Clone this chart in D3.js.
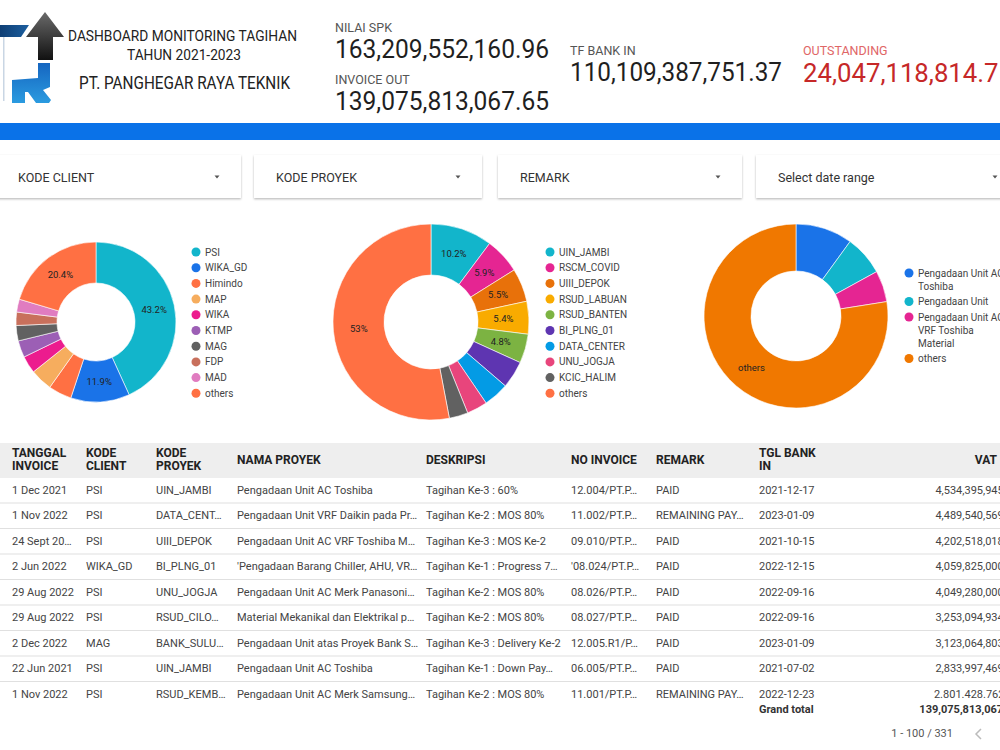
<!DOCTYPE html>
<html><head><meta charset="utf-8">
<script src="https://cdn.jsdelivr.net/npm/d3@7"></script>
<style>
body{margin:0;background:#fff;overflow:hidden}
svg{display:block;font-family:Roboto,"Noto Sans",sans-serif}
</style>
</head><body><svg id="c" width="1000" height="750"></svg>
<script>
// ---------- DATA ----------
const titleLines = ["DASHBOARD MONITORING TAGIHAN", "TAHUN 2021-2023"];
const companyName = "PT. PANGHEGAR RAYA TEKNIK";
const kpiLabels = ["NILAI SPK", "INVOICE OUT", "TF BANK IN", "OUTSTANDING"];
const kpiValues = ["163,209,552,160.96", "139,075,813,067.65", "110,109,387,751.37", "24,047,118,814.75"];
const filterLabels = ["KODE CLIENT", "KODE PROYEK", "REMARK", "Select date range"];

const clientCategories = ["PSI", "WIKA_GD", "Himindo", "MAP", "WIKA", "KTMP", "MAG", "FDP", "MAD", "others"];
const clientShares = [43.2, 11.9, 4.7, 4.5, 3.5, 3.4, 3.1, 2.7, 2.6, 20.4];

const projectCategories = ["UIN_JAMBI", "RSCM_COVID", "UIII_DEPOK", "RSUD_LABUAN", "RSUD_BANTEN", "BI_PLNG_01", "DATA_CENTER", "UNU_JOGJA", "KCIC_HALIM", "others"];
const projectShares = [10.2, 5.9, 5.5, 5.4, 4.8, 4.5, 4.2, 3.4, 3.1, 53];

const nameCategories = ["Pengadaan Unit AC Toshiba", "Pengadaan Unit", "Pengadaan Unit AC VRF Toshiba Material", "others"];
const nameShares = [10, 7, 5.5, 77.5];

const tableHeaders = [["TANGGAL", "INVOICE"], ["KODE", "CLIENT"], ["KODE", "PROYEK"], ["NAMA PROYEK"], ["DESKRIPSI"], ["NO INVOICE"], ["REMARK"], ["TGL BANK", "IN"], ["VAT"]];
const colTanggal = ["1 Dec 2021", "1 Nov 2022", "24 Sept 20…", "2 Jun 2022", "29 Aug 2022", "29 Aug 2022", "2 Dec 2022", "22 Jun 2021", "1 Nov 2022"];
const colClient = ["PSI", "PSI", "PSI", "WIKA_GD", "PSI", "PSI", "MAG", "PSI", "PSI"];
const colProyek = ["UIN_JAMBI", "DATA_CENT…", "UIII_DEPOK", "BI_PLNG_01", "UNU_JOGJA", "RSUD_CILO…", "BANK_SULU…", "UIN_JAMBI", "RSUD_KEMB…"];
const colNama = ["Pengadaan Unit AC Toshiba", "Pengadaan Unit VRF Daikin pada Pr…", "Pengadaan Unit AC VRF Toshiba M…", "'Pengadaan Barang Chiller, AHU, VR…", "Pengadaan Unit AC Merk Panasoni…", "Material Mekanikal dan Elektrikal p…", "Pengadaan Unit atas Proyek Bank S…", "Pengadaan Unit AC Toshiba", "Pengadaan Unit AC Merk Samsung…"];
const colDeskripsi = ["Tagihan Ke-3 : 60%", "Tagihan Ke-2 : MOS 80%", "Tagihan Ke-3 : MOS Ke-2", "Tagihan Ke-1 : Progress 7…", "Tagihan Ke-2 : MOS 80%", "Tagihan Ke-2 : MOS 80%", "Tagihan Ke-3 : Delivery Ke-2", "Tagihan Ke-1 : Down Pay…", "Tagihan Ke-2 : MOS 80%"];
const colNoInvoice = ["12.004/PT.P…", "11.002/PT.P…", "09.010/PT.P…", "'08.024/PT.P…", "08.026/PT.P…", "08.027/PT.P…", "12.005.R1/P…", "06.005/PT.P…", "11.001/PT.P…"];
const colRemark = ["PAID", "REMAINING PAY…", "PAID", "PAID", "PAID", "PAID", "PAID", "PAID", "REMAINING PAY…"];
const colBankIn = ["2021-12-17", "2023-01-09", "2021-10-15", "2022-12-15", "2022-09-16", "2022-09-16", "2023-01-09", "2021-07-02", "2022-12-23"];
const colVat = ["4,534,395,945.45", "4,489,540,569.00", "4,202,518,018.18", "4,059,825,000.00", "4,049,280,000.00", "3,253,094,934.00", "3,123,064,803.00", "2,833,997,469.09", "2.801.428.762,00"];
const grandTotalLabel = "Grand total";
const grandTotalValue = "139,075,813,067.65";
const pageInfo = "1 - 100 / 331";

// ---------- STYLES ----------
const clientColors = ["#12b5cb", "#1a73e8", "#ff7043", "#f6ad5e", "#ec1c8e", "#9c5fb5", "#616161", "#c8705c", "#e07cc0", "#ff7043"];
const projectColors = ["#12b5cb", "#e52592", "#e8710a", "#f9ab00", "#7cb342", "#5e35b1", "#039be5", "#e8457c", "#616161", "#ff7043"];
const nameColors = ["#1a73e8", "#12b5cb", "#e52592", "#f07800"];

const svg = d3.select("#c");
const defs = svg.append("defs");
const sh = defs.append("filter").attr("id", "shadow").attr("x", "-5%").attr("y", "-20%").attr("width", "110%").attr("height", "150%");
sh.append("feDropShadow").attr("dx", 0).attr("dy", 1.2).attr("stdDeviation", 1.3).attr("flood-color", "#000").attr("flood-opacity", 0.28);

function lin(id, stops, x2, y2) {
  const g = defs.append("linearGradient").attr("id", id).attr("x1", 0).attr("y1", 0).attr("x2", x2).attr("y2", y2);
  stops.forEach((s, i) => g.append("stop").attr("offset", i / (stops.length - 1)).attr("stop-color", s));
}
lin("gNavy", ["#0f3f75", "#1c5f9f"], 1, 0);
lin("gBlack", ["#6a6a6a", "#111111"], 0, 1);
lin("gBlue", ["#1565c0", "#2b9be0"], 0, 1);

// ---------- LOGO ----------
const logo = svg.append("g");
logo.append("path").attr("d", "M0,25 L29,25 L21,37 L0,37 Z").attr("fill", "url(#gNavy)");
logo.append("rect").attr("x", 3).attr("y", 37).attr("width", 1.5).attr("height", 64).attr("fill", "#c9d6e4");
logo.append("path").attr("d", "M45,12 L64,37 L53,37 L53,60 L38,60 L38,37 L26,37 Z").attr("fill", "url(#gBlack)");
logo.append("path").attr("d", "M38,63 L50,63 L50,87 L43,90 L51,100 L49,103 L36,103 L28,92 L25,92 L25,103 L12,103 L12,80 L38,78 Z").attr("fill", "url(#gBlue)");

// ---------- TITLE ----------
svg.append("text").attr("x", 68).attr("y", 41).attr("textLength", 229).attr("lengthAdjust", "spacingAndGlyphs")
  .attr("font-size", 15).attr("fill", "#222").text(titleLines[0]);
svg.append("text").attr("x", 127).attr("y", 60).attr("textLength", 114).attr("lengthAdjust", "spacingAndGlyphs")
  .attr("font-size", 15).attr("fill", "#222").text(titleLines[1]);
svg.append("text").attr("x", 79).attr("y", 89).attr("textLength", 211).attr("lengthAdjust", "spacingAndGlyphs")
  .attr("font-size", 17.5).attr("fill", "#222").text(companyName);

// ---------- KPIs ----------
const kpiPos = [
  {x: 335, ly: 32, vy: 58, w: 214},
  {x: 335, ly: 84, vy: 110, w: 214},
  {x: 570, ly: 55, vy: 81, w: 212},
  {x: 803, ly: 55, vy: 82, w: 210}
];
kpiLabels.forEach((l, i) => {
  const p = kpiPos[i];
  const red = i === 3;
  svg.append("text").attr("x", p.x).attr("y", p.ly).attr("font-size", 12.5)
    .attr("fill", red ? "#e06666" : "#555").text(l);
  svg.append("text").attr("x", p.x).attr("y", p.vy).attr("font-size", 25)
    .attr("textLength", p.w).attr("lengthAdjust", "spacingAndGlyphs")
    .attr("fill", red ? "#c62828" : "#1f1f1f").text(kpiValues[i]);
});

// ---------- BLUE BAND ----------
svg.append("rect").attr("x", 0).attr("y", 123).attr("width", 1000).attr("height", 17).attr("fill", "#0a72e8");

// ---------- FILTERS ----------
const filterBoxes = [[-4, 241], [254, 482], [498, 742], [756, 1006]];
filterLabels.forEach((l, i) => {
  const [x0, x1] = filterBoxes[i];
  svg.append("rect").attr("x", x0).attr("y", 155).attr("width", x1 - x0).attr("height", 43)
    .attr("fill", "#fff").attr("filter", "url(#shadow)");
  svg.append("text").attr("x", x0 + 22).attr("y", 181.5).attr("font-size", 12.5).attr("fill", "#333").text(l);
  const ax = i === 3 ? 995 : x1 - 24;
  svg.append("path").attr("d", `M${ax - 2.5},175.5 L${ax + 2.5},175.5 L${ax},178.5 Z`).attr("fill", "#555");
});

// ---------- DONUTS ----------
function donut(cfg) {
  const data = cfg.cats.map((c, i) => ({c, v: cfg.vals[i], col: cfg.colors[i]}));
  const pie = d3.pie().sort(null).value(d => d.v);
  const arcs = pie(data);
  const arc = d3.arc().innerRadius(cfg.ri).outerRadius(cfg.ro);
  const g = svg.append("g").attr("transform", `translate(${cfg.cx},${cfg.cy})`);
  g.selectAll("path").data(arcs).join("path").attr("d", arc).attr("fill", d => d.data.col)
    .attr("stroke", "#fff").attr("stroke-width", 0.6);
  const lab = d3.arc().innerRadius((cfg.ri + cfg.ro) / 2).outerRadius((cfg.ri + cfg.ro) / 2);
  g.selectAll("text").data(arcs.filter(cfg.showLabel)).join("text")
    .attr("transform", d => `translate(${lab.centroid(d)})`)
    .attr("text-anchor", "middle").attr("dy", "0.35em").attr("font-size", 9.5).attr("fill", "#222")
    .text(cfg.labelText);
  // legend
  const lg = svg.append("g");
  let y = cfg.ly;
  data.forEach(d => {
    const t = lg.append("text").attr("x", cfg.lx + 9).attr("font-size", 10).attr("fill", "#444");
    const words = d.c.split(" ");
    const lines = [];
    let cur = "";
    words.forEach(w => {
      const test = cur ? cur + " " + w : w;
      t.text(test);
      if (cfg.wrap && t.node().getComputedTextLength() > cfg.wrap && cur) { lines.push(cur); cur = w; }
      else cur = test;
    });
    lines.push(cur);
    t.text(null);
    lines.forEach((ln, k) => t.append("tspan").attr("x", cfg.lx + 9).attr("y", y + k * cfg.lineH).attr("dy", "0.35em").text(ln));
    lg.append("circle").attr("cx", cfg.lx).attr("cy", y).attr("r", 4.5).attr("fill", d.col);
    y += lines.length * cfg.lineH + cfg.gap;
  });
}
donut({cats: clientCategories, vals: clientShares, colors: clientColors, cx: 96, cy: 322, ro: 80, ri: 39,
  showLabel: d => d.data.v >= 4.8, labelText: d => d.data.v + "%", lx: 196, ly: 252, lineH: 15.7, gap: 0});
donut({cats: projectCategories, vals: projectShares, colors: projectColors, cx: 431, cy: 322, ro: 98, ri: 47,
  showLabel: d => d.data.v >= 4.8, labelText: d => d.data.v + "%", lx: 550, ly: 252, lineH: 15.7, gap: 0});
donut({cats: nameCategories, vals: nameShares, colors: nameColors, cx: 796, cy: 316, ro: 92, ri: 45,
  showLabel: d => d.data.v > 50, labelText: d => d.data.c, lx: 909, ly: 273, lineH: 13, gap: 2.5, wrap: 88});

// ---------- TABLE ----------
const colX = [12, 86, 156, 237, 426, 571, 656, 759];
const vatRight = 1019;
svg.append("rect").attr("x", 0).attr("y", 443).attr("width", 1000).attr("height", 35).attr("fill", "#eeeeee");
tableHeaders.forEach((h, i) => {
  const isVat = i === 8;
  const t = svg.append("text").attr("font-size", 12).attr("font-weight", "bold").attr("fill", "#222")
    .attr("text-anchor", isVat ? "end" : "start");
  const x = isVat ? 997 : colX[i];
  const y0 = h.length === 2 ? 453 : 460;
  h.forEach((ln, k) => t.append("tspan").attr("x", x).attr("y", y0 + k * 12.5).attr("dy", "0.35em").text(ln));
});
const cols = [colTanggal, colClient, colProyek, colNama, colDeskripsi, colNoInvoice, colRemark, colBankIn];
const rowY = d3.range(colTanggal.length).map(i => 490 + i * 25.5);
rowY.forEach((y, r) => {
  cols.forEach((c, i) => {
    svg.append("text").attr("x", colX[i]).attr("y", y).attr("dy", "0.35em").attr("font-size", 11)
      .attr("fill", "#444").text(c[r]);
  });
  svg.append("text").attr("x", vatRight).attr("y", y).attr("dy", "0.35em").attr("font-size", 11)
    .attr("text-anchor", "end").attr("fill", "#444").text(colVat[r]);
  if (r < rowY.length - 1)
    svg.append("line").attr("x1", 0).attr("x2", 1000).attr("y1", y + 13).attr("y2", y + 13)
      .attr("stroke", "#e0e0e0").attr("stroke-width", 1.2);
});
svg.append("text").attr("x", 759).attr("y", 709).attr("dy", "0.35em").attr("font-size", 11)
  .attr("font-weight", "bold").attr("fill", "#333").text(grandTotalLabel);
svg.append("text").attr("x", vatRight).attr("y", 709).attr("dy", "0.35em").attr("font-size", 11)
  .attr("font-weight", "bold").attr("text-anchor", "end").attr("fill", "#333").text(grandTotalValue);
svg.append("text").attr("x", 953).attr("y", 733).attr("dy", "0.35em").attr("font-size", 11)
  .attr("text-anchor", "end").attr("fill", "#555").text(pageInfo);
svg.append("path").attr("d", "M981,729 L976,734 L981,739").attr("fill", "none").attr("stroke", "#bbb").attr("stroke-width", 1.5);
</script>
</body></html>
